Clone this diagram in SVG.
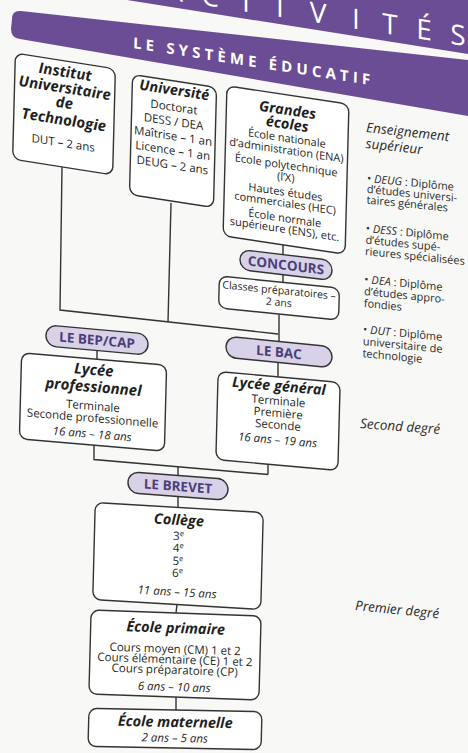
<svg xmlns="http://www.w3.org/2000/svg" width="468" height="753" viewBox="0 0 468 753">
<style>
.t{font-family:'Open Sans','Noto Sans','DejaVu Sans',sans-serif;fill:#1f1f1f;text-anchor:middle}
.h{font-weight:700;font-style:italic;font-size:14.5px}
.s{font-size:11.5px}
.g{font-size:11px}
.i{font-style:italic}
.box{fill:#fff;stroke:#333;stroke-width:1.4}
.pill{fill:#d9d1e7;stroke:#333;stroke-width:1.4}
.p{font-family:'Open Sans','Noto Sans',sans-serif;font-weight:700;font-size:13.5px;fill:#4a3f78;text-anchor:middle}
.r{font-family:'Open Sans','Noto Sans',sans-serif;fill:#2a2a2a;font-size:11px}
.lg{font-family:'Open Sans','Noto Sans',sans-serif;font-style:italic;font-size:13.5px;fill:#2a2a2a}
.cn{fill:none;stroke:#333;stroke-width:1.4}
</style>
<rect width="468" height="753" fill="#f8f8f6"/>
<g id="header">
<path d="M127 0H468V54Z" fill="#6a4d95"/>
<text transform="matrix(1 0.157 0 1 0 0)" y="-27" x="174 210 246 280 318 356 390 424 458" font-family="'Open Sans','Noto Sans',sans-serif" font-size="28" fill="#fff" text-anchor="middle">ACTIVITÉS</text>
<path d="M468 60L21 11Q12 10 12 19L11 29Q11 38 20 39L468 116Z" fill="#6a4d95"/>
<text transform="matrix(1 0.156 -0.026 1 251.5 66.5)" text-anchor="middle" textLength="237" lengthAdjust="spacing" font-family="'Open Sans','Noto Sans',sans-serif" font-weight="700" font-size="15" fill="#fff">LE SYSTÈME ÉDUCATIF</text>
</g>
<g id="connectors" class="cn">
<path d="M62 167L60 310L278 334"/>
<path d="M171 203L168 322"/>
<path d="M283 244.5V254.6M283 274.6V282.4"/>
<path d="M279 314.4V341.5M278 362.5V377"/>
<path d="M97 350.5V359.3"/>
<path d="M94 445V459.5L268 474.5M268 464V474.5"/>
<path d="M178 466.7V475.5M178 496.5V507.5"/>
<path d="M177 604.4L176 613M176 697V710"/>
</g>
<g id="iut" transform="matrix(1 0.158 -0.026 1 64 114)">
<rect class="box" x="-50" y="-53" width="100" height="106" rx="8"/>
<text class="t h" font-size="15" y="-37" style="font-size:15px">Institut</text>
<text class="t h" y="-21" style="font-size:15px">Universitaire</text>
<text class="t h" y="-6" style="font-size:15px">de</text>
<text class="t h" y="11" style="font-size:15px">Technologie</text>
<text class="t s" y="33">DUT – 2 ans</text>
</g>
<g id="universite" transform="matrix(1 0.155 -0.026 1 173 141)">
<rect class="box" x="-42" y="-60" width="84" height="120" rx="8"/>
<text class="t h" y="-46">Université</text>
<text class="t s" y="-30">Doctorat</text>
<text class="t s" y="-15.5">DESS / DEA</text>
<text class="t s" y="-1">Maîtrise – 1 an</text>
<text class="t s" y="13.5">Licence – 1 an</text>
<text class="t s" y="28">DEUG – 2 ans</text>
</g>
<g id="grandes-ecoles" transform="matrix(1 0.15 -0.026 1 286 170)">
<rect class="box" x="-61" y="-75" width="122" height="150" rx="8"/>
<text class="t h" y="-55">Grandes</text>
<text class="t h" y="-41">écoles</text>
<text class="t g" y="-28">École nationale</text>
<text class="t g" y="-16">d’administration (ENA)</text>
<text class="t g" y="-1">École polytechnique</text>
<text class="t g" y="11">(l’X)</text>
<text class="t g" y="26">Hautes études</text>
<text class="t g" y="37">commerciales (HEC)</text>
<text class="t g" y="52">École normale</text>
<text class="t g" y="63">supérieure (ENS), etc.</text>
</g>
<g id="concours" transform="matrix(1 0.12 -0.026 1 286 265)">
<rect class="pill" x="-46" y="-10" width="92" height="20" rx="10"/>
<text class="p" y="5">CONCOURS</text>
</g>
<g id="classes-preparatoires" transform="matrix(1 0.1 -0.026 1 279 298)">
<rect class="box" x="-60" y="-16" width="120" height="32" rx="8"/>
<text class="t" style="font-size:10.5px" y="-4">Classes préparatoires –</text>
<text class="t" style="font-size:10.5px" y="8">2 ans</text>
</g>
<g id="bep-cap" transform="matrix(1 0.09 -0.026 1 97 340)">
<rect class="pill" x="-51" y="-10.5" width="102" height="21" rx="10.5"/>
<text class="p" y="5">LE BEP/CAP</text>
</g>
<g id="bac" transform="matrix(1 0.1 -0.026 1 279 352)">
<rect class="pill" x="-53" y="-10.5" width="106" height="21" rx="10.5"/>
<text class="p" y="5">LE BAC</text>
</g>
<g id="lycee-professionnel" transform="matrix(1 0.085 -0.026 1 93 402)">
<rect class="box" x="-72.5" y="-43" width="145" height="86" rx="8"/>
<text class="t h" style="font-size:15px" y="-27">Lycée</text>
<text class="t h" style="font-size:15px" y="-10">professionnel</text>
<text class="t s" y="8">Terminale</text>
<text class="t s" y="20">Seconde professionnelle</text>
<text class="t s i" y="36">16 ans – 18 ans</text>
</g>
<g id="lycee-general" transform="matrix(1 0.09 -0.026 1 278 421)">
<rect class="box" x="-61" y="-44" width="122" height="88" rx="8"/>
<text class="t h" y="-30">Lycée général</text>
<text class="t s" y="-16">Terminale</text>
<text class="t s" y="-4">Première</text>
<text class="t s" y="8">Seconde</text>
<text class="t s i" y="23">16 ans – 19 ans</text>
</g>
<g id="brevet" transform="matrix(1 0.075 -0.026 1 178 486)">
<rect class="pill" x="-50" y="-10.5" width="100" height="21" rx="10.5"/>
<text class="p" y="5">LE BREVET</text>
</g>
<g id="college" transform="matrix(1 0.06 -0.026 1 178 556)">
<rect class="box" x="-84" y="-48.5" width="168" height="97" rx="8"/>
<text class="t h" y="-31">Collège</text>
<text class="t s" y="-16">3<tspan dy="-4" style="font-size:7.5px">e</tspan></text>
<text class="t s" y="-4">4<tspan dy="-4" style="font-size:7.5px">e</tspan></text>
<text class="t s" y="9">5<tspan dy="-4" style="font-size:7.5px">e</tspan></text>
<text class="t s" y="21">6<tspan dy="-4" style="font-size:7.5px">e</tspan></text>
<text class="t s i" y="40">11 ans – 15 ans</text>
</g>
<g id="ecole-primaire" transform="matrix(1 0.035 -0.026 1 175 655)">
<rect class="box" x="-85" y="-42" width="170" height="84" rx="8"/>
<text class="t h" y="-22">École primaire</text>
<text class="t s" y="-2">Cours moyen (CM) 1 et 2</text>
<text class="t s" y="8.5">Cours élémentaire (CE) 1 et 2</text>
<text class="t s" y="19">Cours préparatoire (CP)</text>
<text class="t s i" y="36">6 ans – 10 ans</text>
</g>
<g id="ecole-maternelle" transform="matrix(1 0.02 -0.026 1 175 729)">
<rect class="box" x="-86.5" y="-19" width="173" height="38" rx="8"/>
<text class="t h" y="-2">École maternelle</text>
<text class="t s i" y="13">2 ans – 5 ans</text>
</g>
<g id="enseignement-superieur" transform="matrix(1 0.11 -0.026 1 366 132)">
<text class="lg" y="0">Enseignement</text>
<text class="lg" y="16">supérieur</text>
</g>
<g id="glossaire" transform="matrix(1 0.1 -0.026 1 367 182)">
<text class="r" y="0">• <tspan font-style="italic">DEUG</tspan> : Diplôme</text>
<text class="r" y="10.8">d’études universi-</text>
<text class="r" y="21.5">taires générales</text>
<text class="r" y="50">• <tspan font-style="italic">DESS</tspan> : Diplôme</text>
<text class="r" y="61.5">d’études supé-</text>
<text class="r" y="73">rieures spécialisées</text>
<text class="r" y="101">• <tspan font-style="italic">DEA</tspan> : Diplôme</text>
<text class="r" y="113">d’études appro-</text>
<text class="r" y="125">fondies</text>
<text class="r" y="151">• <tspan font-style="italic">DUT</tspan> : Diplôme</text>
<text class="r" y="163">universitaire de</text>
<text class="r" y="175">technologie</text>
</g>
<g id="second-degre" transform="matrix(1 0.075 -0.026 1 360 428)">
<text class="lg">Second degré</text>
</g>
<g id="premier-degre" transform="matrix(1 0.1 -0.026 1 355 610)">
<text class="lg">Premier degré</text>
</g>
</svg>
